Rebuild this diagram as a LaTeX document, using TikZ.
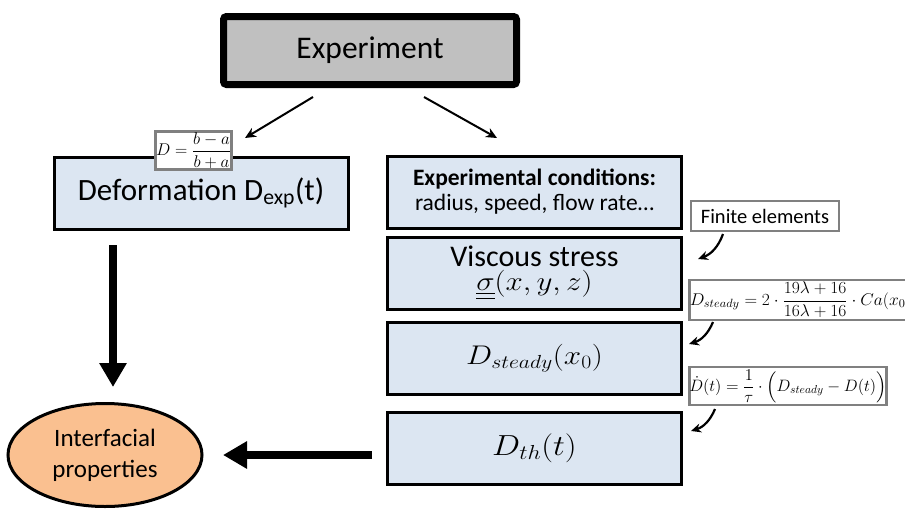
\RequirePackage{fix-cm}
\documentclass[tikz,border=0pt]{standalone}
\usepackage{amsmath}
\usepackage[no-math]{fontspec}
\setmainfont{Carlito}
\usetikzlibrary{arrows.meta,shapes.geometric}
\definecolor{boxgray}{HTML}{C0C0C0}
\definecolor{boxblue}{HTML}{DCE6F2}
\definecolor{ellorange}{HTML}{FAC090}
\definecolor{frmgray}{HTML}{808080}
\tikzset{
  bluebox/.style={draw=black, line width=3pt, fill=boxblue, minimum width=294pt, minimum height=72pt, inner sep=0pt, align=center},
  frmbox/.style={draw=frmgray, line width=2.5pt, fill=white, inner sep=0.5pt, font=\fontsize{17}{19}\selectfont},
  thinarrow/.style={-{Stealth[length=11pt,width=10pt]}, line width=2pt},
  curvarrow/.style={-{Stealth[length=10pt,width=9pt]}, line width=2.2pt},
  fatarrow/.style={-{Triangle[length=24pt,width=26pt]}, line width=8pt}
}
\newcommand{\hstretch}[2][1.15]{\scalebox{#1}[1]{#2}}
\begin{document}
\begin{tikzpicture}[x=1pt,y=-1pt]
\useasboundingbox (0,0) rectangle (905,509);
\clip (0,0) rectangle (905,509);
% Experiment
\node[draw=black, line width=7pt, rounded corners=3pt, fill=boxgray, minimum width=293pt, minimum height=68pt, font=\fontsize{31.5}{34}\selectfont] (exp) at (370,50.5) {Experiment};
% left column
\node[bluebox, font=\fontsize{31}{34}\selectfont] (def) at (201,193) {Deformation D\textsubscript{exp}(t)};
\node[frmbox, minimum width=75pt, minimum height=38pt] (dfrm) at (193.5,150.5) {$\displaystyle D=\frac{b-a}{b+a}$};
\node[ellipse, draw=black, line width=3pt, fill=ellorange, minimum width=194pt, minimum height=103pt, align=center, font=\fontsize{25}{31}\selectfont] (ifp) at (105,455) {Interfacial\\properties};
% right column
\node[bluebox] (cond) at (534.5,192) {{\fontsize{23.5}{26}\selectfont\bfseries Experimental conditions:}\\[4pt]{\fontsize{23.5}{26}\selectfont radius, speed, flow rate\dots}};
\node[bluebox] (visc) at (534.5,273) {{\fontsize{30}{32}\selectfont Viscous stress}\\[2pt]{\fontsize{27}{30}\selectfont\hstretch{$\underline{\underline{\sigma}}(x,y,z)$}}};
\node[bluebox, font=\fontsize{27}{30}\selectfont] (dst) at (534.5,358) {\hstretch{$D_{steady}(x_0)$}};
\node[bluebox, font=\fontsize{29}{32}\selectfont] (dth) at (534.5,448) {\hstretch{$D_{th}(t)$}};
% side formula boxes
\node[draw=frmgray, line width=2.5pt, fill=white, inner sep=0pt, minimum width=148pt, minimum height=30pt, font=\fontsize{20.5}{23}\selectfont] (fe) at (765,216) {Finite elements};
\node[frmbox, anchor=west, minimum height=40pt, inner sep=0.5pt] (dsf) at (688,300) {\hstretch[1.03]{$\displaystyle D_{steady}=2\cdot\frac{19\lambda+16}{16\lambda+16}\cdot Ca(x_0)$}};
\node[frmbox, anchor=west, minimum height=38pt, inner sep=0pt, font=\fontsize{16.5}{19}\selectfont] (ddf) at (688,386) {$\displaystyle \dot D(t)=\frac{1}{\tau}\cdot\Bigl(D_{steady}-D(t)\Bigr)$};
% connector anchors
\coordinate (e1) at (313,97);
\coordinate (e2) at (424,97);
\coordinate (d1) at (245,138);
\coordinate (c1) at (497,138);
\coordinate (fa) at (113,245);
\coordinate (fb) at (113,387);
\coordinate (ha) at (372,455);
\coordinate (hb) at (223,455);
\coordinate (fs) at (723,234);
\coordinate (ft) at (698,259);
\coordinate (ss) at (713,322);
\coordinate (st) at (689,344);
\coordinate (ds) at (715,409);
\coordinate (dt) at (691,431);
% connectors
\draw[thinarrow] (e1) -- (d1);
\draw[thinarrow] (e2) -- (c1);
\draw[fatarrow] (fa) -- (fb);
\draw[fatarrow] (ha) -- (hb);
\draw[curvarrow] (fs) to[bend left=25] (ft);
\draw[curvarrow] (ss) to[bend left=25] (st);
\draw[curvarrow] (ds) to[bend left=25] (dt);
\end{tikzpicture}
\end{document}
